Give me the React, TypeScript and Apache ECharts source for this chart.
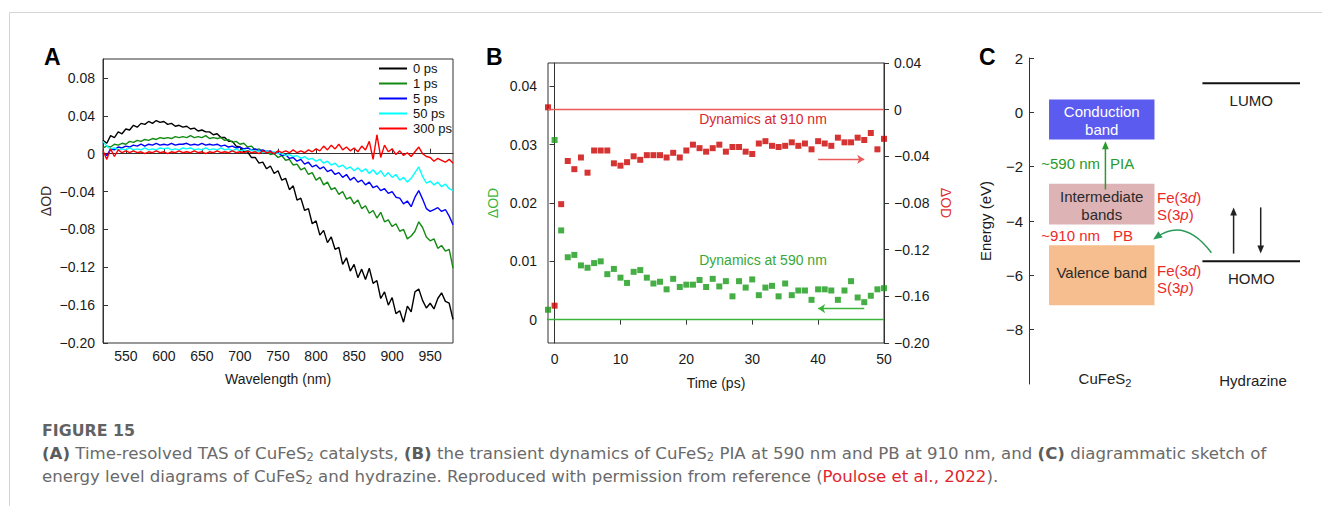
import React, { useEffect, useRef } from 'react';
import * as echarts from 'echarts';

const FONT = '"Liberation Sans", Arial, Helvetica, sans-serif';
const CAP2 = '"DejaVu Sans", "Open Sans", sans-serif';

// ---------- Panel A : time-resolved TAS ----------
const wavelengthsNm = [
  520, 525, 530, 535, 540, 545, 550, 555, 560, 565,
  570, 575, 580, 585, 590, 595, 600, 605, 610, 615,
  620, 625, 630, 635, 640, 645, 650, 655, 660, 665,
  670, 675, 680, 685, 690, 695, 700, 705, 710, 715,
  720, 725, 730, 735, 740, 745, 750, 755, 760, 765,
  770, 775, 780, 785, 790, 795, 800, 805, 810, 815,
  820, 825, 830, 835, 840, 845, 850, 855, 860, 865,
  870, 875, 880, 885, 890, 895, 900, 905, 910, 915,
  920, 925, 930, 935, 940, 945, 950, 955, 960, 965,
  970, 975, 980,
];
const tas0ps = [
  0.014, 0.011, 0.019, 0.017, 0.023, 0.021, 0.026, 0.025, 0.030, 0.028,
  0.032, 0.031, 0.034, 0.032, 0.035, 0.033, 0.034, 0.031, 0.032, 0.029,
  0.030, 0.028, 0.029, 0.026, 0.027, 0.024, 0.025, 0.023, 0.023, 0.020,
  0.021, 0.017, 0.017, 0.013, 0.013, 0.008, 0.007, 0.002, 0.002, -0.004,
  -0.004, -0.010, -0.009, -0.016, -0.013, -0.021, -0.018, -0.028, -0.026, -0.038,
  -0.034, -0.049, -0.047, -0.060, -0.058, -0.074, -0.071, -0.086, -0.081, -0.094,
  -0.088, -0.101, -0.099, -0.117, -0.110, -0.124, -0.117, -0.131, -0.122, -0.133,
  -0.121, -0.137, -0.134, -0.153, -0.146, -0.160, -0.152, -0.169, -0.166, -0.178,
  -0.161, -0.167, -0.146, -0.143, -0.155, -0.163, -0.158, -0.164, -0.153, -0.147,
  -0.156, -0.158, -0.175,
];
const tas1ps = [
  0.006, 0.008, 0.007, 0.010, 0.009, 0.011, 0.010, 0.013, 0.012, 0.014,
  0.013, 0.015, 0.014, 0.016, 0.015, 0.017, 0.016, 0.017, 0.016, 0.018,
  0.017, 0.018, 0.017, 0.019, 0.017, 0.018, 0.017, 0.019, 0.016, 0.017,
  0.016, 0.017, 0.014, 0.015, 0.012, 0.013, 0.010, 0.011, 0.007, 0.008,
  0.004, 0.005, 0.002, 0.003, -0.001, 0.000, -0.004, -0.002, -0.007, -0.006,
  -0.012, -0.011, -0.017, -0.015, -0.022, -0.020, -0.028, -0.025, -0.033, -0.030,
  -0.038, -0.036, -0.043, -0.040, -0.048, -0.046, -0.053, -0.049, -0.058, -0.055,
  -0.063, -0.060, -0.068, -0.062, -0.072, -0.070, -0.077, -0.074, -0.082, -0.080,
  -0.090, -0.087, -0.082, -0.072, -0.078, -0.088, -0.092, -0.090, -0.100, -0.097,
  -0.103, -0.101, -0.121,
];
const tas5ps = [
  0.001, -0.002, 0.005, 0.004, 0.007, 0.006, 0.008, 0.007, 0.009, 0.008,
  0.010, 0.008, 0.010, 0.009, 0.011, 0.009, 0.010, 0.009, 0.011, 0.009,
  0.010, 0.010, 0.011, 0.009, 0.010, 0.009, 0.011, 0.009, 0.010, 0.009,
  0.010, 0.008, 0.009, 0.007, 0.008, 0.006, 0.007, 0.005, 0.006, 0.004,
  0.005, 0.003, 0.004, 0.002, 0.003, 0.000, 0.001, -0.002, -0.001, -0.005,
  -0.004, -0.008, -0.006, -0.011, -0.009, -0.014, -0.012, -0.016, -0.014, -0.019,
  -0.017, -0.022, -0.020, -0.025, -0.022, -0.028, -0.025, -0.030, -0.028, -0.033,
  -0.030, -0.036, -0.034, -0.039, -0.037, -0.042, -0.040, -0.046, -0.047, -0.053,
  -0.050, -0.056, -0.046, -0.039, -0.048, -0.058, -0.061, -0.059, -0.057, -0.061,
  -0.059, -0.066, -0.075,
];
const tas50ps = [
  0.013, 0.008, 0.005, 0.006, 0.004, 0.005, 0.004, 0.006, 0.004, 0.005,
  0.004, 0.006, 0.004, 0.005, 0.004, 0.006, 0.005, 0.006, 0.004, 0.005,
  0.004, 0.006, 0.005, 0.006, 0.004, 0.005, 0.004, 0.006, 0.004, 0.005,
  0.004, 0.006, 0.004, 0.005, 0.003, 0.005, 0.003, 0.004, 0.003, 0.004,
  0.002, 0.003, 0.001, 0.003, 0.001, 0.002, 0.000, 0.001, -0.002, -0.001,
  -0.003, -0.002, -0.005, -0.003, -0.006, -0.005, -0.008, -0.006, -0.010, -0.008,
  -0.012, -0.010, -0.014, -0.012, -0.016, -0.014, -0.018, -0.015, -0.019, -0.016,
  -0.021, -0.017, -0.022, -0.018, -0.024, -0.020, -0.025, -0.022, -0.028, -0.025,
  -0.030, -0.026, -0.020, -0.014, -0.024, -0.031, -0.029, -0.033, -0.030, -0.035,
  -0.032, -0.037, -0.039,
];
const tas300ps = [
  0.003, -0.006, 0.005, -0.003, 0.004, 0.001, 0.003, 0.001, 0.003, 0.001,
  0.002, 0.000, 0.002, 0.001, 0.003, 0.001, 0.002, 0.000, 0.002, 0.001,
  0.003, 0.001, 0.002, 0.001, 0.003, 0.001, 0.002, 0.000, 0.002, 0.001,
  0.003, 0.001, 0.002, 0.001, 0.003, 0.001, 0.002, 0.001, 0.003, 0.001,
  0.002, 0.000, 0.003, 0.001, 0.002, 0.000, 0.003, 0.001, 0.003, 0.001,
  0.004, 0.001, 0.003, 0.001, 0.004, 0.002, 0.005, 0.003, 0.008, 0.004,
  0.009, 0.005, 0.010, 0.004, 0.007, 0.003, 0.006, 0.002, 0.008, 0.004,
  0.013, -0.006, 0.020, -0.004, 0.009, 0.002, 0.005, -0.001, 0.003, -0.002,
  0.001, -0.003, 0.002, 0.007, 0.000, -0.003, -0.004, -0.008, -0.005, -0.007,
  -0.009, -0.006, -0.010,
];
const tasLegend = ['0 ps', '1 ps', '5 ps', '50 ps', '300 ps'];
const tasColors = ['#000000', '#138a13', '#0000ff', '#00ffff', '#ff0000'];
const wavelengthTicks = [550, 600, 650, 700, 750, 800, 850, 900, 950];
const odTicksA = [-0.2, -0.16, -0.12, -0.08, -0.04, 0, 0.04, 0.08];

// ---------- Panel B : transient dynamics ----------
const timePs = [
  -1, 0, 1, 2, 3, 4, 5, 6, 7, 8,
  9, 10, 11, 12, 13, 14, 15, 16, 17, 18,
  19, 20, 21, 22, 23, 24, 25, 26, 27, 28,
  29, 30, 31, 32, 33, 34, 35, 36, 37, 38,
  39, 40, 41, 42, 43, 44, 45, 46, 47, 48,
  49, 50,
];
const dyn590 = [
  0.0017, 0.0308, 0.0153, 0.0107, 0.0111, 0.0093, 0.0089, 0.0097, 0.0100, 0.0078,
  0.0087, 0.0072, 0.0063, 0.0082, 0.0085, 0.0072, 0.0062, 0.0065, 0.0052, 0.0070,
  0.0056, 0.0060, 0.0060, 0.0068, 0.0056, 0.0070, 0.0057, 0.0066, 0.0040, 0.0066,
  0.0055, 0.0069, 0.0042, 0.0055, 0.0058, 0.0040, 0.0062, 0.0042, 0.0050, 0.0050,
  0.0034, 0.0052, 0.0052, 0.0050, 0.0034, 0.0050, 0.0066, 0.0038, 0.0030, 0.0041,
  0.0052, 0.0054,
];
const dyn910 = [
  0.002, -0.168, -0.081, -0.044, -0.051, -0.041, -0.054, -0.035, -0.035, -0.035,
  -0.046, -0.048, -0.045, -0.040, -0.043, -0.039, -0.039, -0.039, -0.041, -0.037,
  -0.041, -0.035, -0.030, -0.033, -0.036, -0.033, -0.030, -0.036, -0.032, -0.032,
  -0.036, -0.038, -0.029, -0.027, -0.031, -0.032, -0.031, -0.028, -0.031, -0.029,
  -0.034, -0.027, -0.029, -0.031, -0.024, -0.028, -0.028, -0.024, -0.026, -0.020,
  -0.034, -0.025,
];
const timeTicks = [0, 10, 20, 30, 40, 50];
const odTicksBLeft = [0, 0.01, 0.02, 0.03, 0.04];
const odTicksBRight = [-0.2, -0.16, -0.12, -0.08, -0.04, 0, 0.04];
const arrow590 = { fromT: 47, toT: 40, od: 0.0019 };
const arrow910 = { fromT: 40, toT: 47, od: -0.0426 };

// ---------- Panel C : energy levels ----------
const energyTicks = [-8, -6, -4, -2, 0, 2];
const bandNames = ['Conduction\nband', 'Intermediate\nbands', 'Valence band'];
const bandTopEv = [0.47, -2.63, -4.89];
const bandBottomEv = [-1.0, -4.13, -7.1];
const bandColors = ['#5b5bef', '#ddb3b5', '#f6bd8e'];
const bandTextColors = ['#ffffff', '#2a2a2a', '#2a2a2a'];
const levelNames = ['LUMO', 'HOMO'];
const levelEv = [1.07, -5.48];
const transFromEv = [-2.84, -5.2, -3.5];
const transToEv = [-1.06, -3.5, -5.2];
const transColors = ['#2a9a2a', '#222222', '#222222'];
const pbTransferEv = { from: -5.17, ctrl: -3.87, to: -4.68 };

// layout (x positions in the hidden 0..100 axis of panel C)
const BAND_X0 = 7.4;
const BAND_X1 = 46.3;
const LEVEL_X0 = 64;
const LEVEL_X1 = 100;
const TRANS_X = [28.2, 75.5, 85.5];
const PB_X = { from: 67.3, ctrl: 57.5, to: 45.8 };

const minus = (s: string) => s.replace('-', '\u2212');
const fmt2 = (v: number) => (Math.abs(v) < 1e-9 ? '0' : minus(v.toFixed(2)));
const fmt0 = (v: number) => (Math.abs(v) < 1e-9 ? '0' : minus(String(Math.round(v))));

function arrowHead(tip: number[], from: number[], size: number, color: string) {
  const dx = tip[0] - from[0];
  const dy = tip[1] - from[1];
  const len = Math.hypot(dx, dy) || 1;
  const ux = dx / len;
  const uy = dy / len;
  const bx = tip[0] - ux * size;
  const by = tip[1] - uy * size;
  const px = -uy * size * 0.42;
  const py = ux * size * 0.42;
  return {
    type: 'polygon',
    shape: { points: [[tip[0], tip[1]], [bx + px, by + py], [bx - px, by - py]] },
    style: { fill: color },
  };
}

function buildOption(): any {
  const axisLine = { show: true, lineStyle: { color: '#333', width: 1 } };
  const tickStyle = { color: '#333', width: 1 };
  const lbl = (size: number) => ({ fontSize: size, fontFamily: FONT, color: '#1a1a1a' });

  const tasSeries = [tas0ps, tas1ps, tas5ps, tas50ps, tas300ps].map((vals, k) => ({
    name: tasLegend[k],
    type: 'line',
    xAxisIndex: 0,
    yAxisIndex: 0,
    symbol: 'none',
    showSymbol: false,
    silent: true,
    z: 2 + k,
    data: wavelengthsNm.map((w, i) => [w, vals[i]]),
    lineStyle: { color: tasColors[k], width: 1.4 },
    itemStyle: { color: tasColors[k] },
  }));

  const bandSeries = {
    type: 'custom',
    xAxisIndex: 2,
    yAxisIndex: 3,
    silent: true,
    clip: false,
    data: bandTopEv.map((t, i) => [i, t, bandBottomEv[i]]),
    renderItem: (params: any, api: any) => {
      const i = api.value(0);
      const tl = api.coord([BAND_X0, api.value(1)]);
      const br = api.coord([BAND_X1, api.value(2)]);
      return {
        type: 'group',
        children: [
          { type: 'rect', shape: { x: tl[0], y: tl[1], width: br[0] - tl[0], height: br[1] - tl[1] }, style: { fill: bandColors[i] } },
          {
            type: 'text',
            x: (tl[0] + br[0]) / 2,
            y: (tl[1] + br[1]) / 2 + (i === 2 ? -3 : 1),
            style: { text: bandNames[i], font: `15px ${FONT}`, fill: bandTextColors[i], align: 'center', verticalAlign: 'middle', lineHeight: 18 },
          },
        ],
      };
    },
  };

  const levelSeries = {
    type: 'custom',
    xAxisIndex: 2,
    yAxisIndex: 3,
    silent: true,
    clip: false,
    data: levelEv.map((e, i) => [i, e]),
    renderItem: (params: any, api: any) => {
      const i = api.value(0);
      const a = api.coord([LEVEL_X0, api.value(1)]);
      const b = api.coord([LEVEL_X1, api.value(1)]);
      return {
        type: 'group',
        children: [
          { type: 'line', shape: { x1: a[0], y1: a[1], x2: b[0], y2: b[1] }, style: { stroke: '#111', lineWidth: 2 } },
          {
            type: 'text',
            x: (a[0] + b[0]) / 2,
            y: a[1] + 17,
            style: { text: levelNames[i], font: `15px ${FONT}`, fill: '#222', align: 'center', verticalAlign: 'middle' },
          },
        ],
      };
    },
  };

  const transSeries = {
    type: 'custom',
    xAxisIndex: 2,
    yAxisIndex: 3,
    silent: true,
    clip: false,
    data: transFromEv.map((e, i) => [i, e, transToEv[i]]),
    renderItem: (params: any, api: any) => {
      const i = api.value(0);
      const p0 = api.coord([TRANS_X[i], api.value(1)]);
      const p1 = api.coord([TRANS_X[i], api.value(2)]);
      const dir = p1[1] > p0[1] ? 1 : -1;
      const head = 8;
      return {
        type: 'group',
        children: [
          { type: 'line', shape: { x1: p0[0], y1: p0[1], x2: p1[0], y2: p1[1] - dir * head * 0.8 }, style: { stroke: transColors[i], lineWidth: 1.5 } },
          arrowHead(p1, p0, head, transColors[i]),
        ],
      };
    },
  };

  const pbSeries = {
    type: 'custom',
    xAxisIndex: 2,
    yAxisIndex: 3,
    silent: true,
    clip: false,
    data: [[pbTransferEv.from, pbTransferEv.ctrl, pbTransferEv.to]],
    renderItem: (params: any, api: any) => {
      const s = api.coord([PB_X.from, api.value(0)]);
      const c = api.coord([PB_X.ctrl, api.value(1)]);
      const e = api.coord([PB_X.to, api.value(2)]);
      return {
        type: 'group',
        children: [
          { type: 'bezierCurve', shape: { x1: s[0], y1: s[1], cpx1: c[0], cpy1: c[1], x2: e[0] + 4, y2: e[1] - 2.5 }, style: { stroke: '#2a9a5a', lineWidth: 1.5, fill: 'none' } },
          arrowHead(e, c, 9, '#2a9a5a'),
        ],
      };
    },
  };

  const greenSeries = {
    name: '590 nm',
    type: 'scatter',
    xAxisIndex: 1,
    yAxisIndex: 1,
    symbol: 'rect',
    symbolSize: 6,
    silent: true,
    itemStyle: { color: '#169a16' },
    data: timePs.map((t, i) => [t, dyn590[i]]),
    markLine: {
      silent: true,
      symbol: ['none', 'none'],
      label: { show: false },
      lineStyle: { color: '#3cb43c', width: 1.3, type: 'solid' },
      data: [
        { yAxis: 0 },
        [
          { coord: [arrow590.fromT, arrow590.od], symbol: 'none' },
          { coord: [arrow590.toT, arrow590.od], symbol: 'arrow', symbolSize: 7 },
        ],
      ],
    },
  };

  const redSeries = {
    name: '910 nm',
    type: 'scatter',
    xAxisIndex: 1,
    yAxisIndex: 2,
    symbol: 'rect',
    symbolSize: 6,
    silent: true,
    itemStyle: { color: '#cc0000' },
    data: timePs.map((t, i) => [t, dyn910[i]]),
    markLine: {
      silent: true,
      symbol: ['none', 'none'],
      label: { show: false },
      lineStyle: { color: '#ea5a5a', width: 1.3, type: 'solid' },
      data: [
        { yAxis: 0 },
        [
          { coord: [arrow910.fromT, arrow910.od], symbol: 'none' },
          { coord: [arrow910.toT, arrow910.od], symbol: 'arrow', symbolSize: 7 },
        ],
      ],
    },
  };

  const capSize = 16.6;
  const capFont = `${capSize}px ${CAP2}`;
  const capFill = '#6a6a6a';
  const capRich = {
    b: { font: `bold ${capSize}px ${CAP2}`, fill: '#5c5c5c' },
    s: { font: `11.5px ${CAP2}`, fill: capFill, padding: [8, 0, 0, 0], lineHeight: 11 },
    r: { font: capFont, fill: '#e0262d' },
  };
  const feRich = {
    i: { font: `italic 15px ${FONT}`, fill: '#ec2a2a' },
  };
  const t = (x: number, y: number, text: string, font: string, fill: string, align = 'left', extra: any = {}) => ({
    type: 'text',
    x,
    y,
    silent: true,
    style: { text, font, fill, align, verticalAlign: 'middle', ...extra },
  });

  const graphics = [
    { type: 'line', silent: true, shape: { x1: 9.5, y1: 12.5, x2: 1322, y2: 12.5 }, style: { stroke: '#d4d4d4', lineWidth: 1 } },
    { type: 'line', silent: true, shape: { x1: 9.5, y1: 12.5, x2: 9.5, y2: 506 }, style: { stroke: '#d4d4d4', lineWidth: 1 } },
    t(44, 57, 'A', `bold 23px ${FONT}`, '#000'),
    t(486, 57, 'B', `bold 23px ${FONT}`, '#000'),
    t(979, 57, 'C', `bold 23px ${FONT}`, '#000'),
    t(763, 119, 'Dynamics at 910 nm', `14px ${FONT}`, '#d8282e', 'center'),
    t(763, 260, 'Dynamics at 590 nm', `14px ${FONT}`, '#38a838', 'center'),
    t(1100, 163, '~590 nm', `15px ${FONT}`, '#2a9a2a', 'right'),
    t(1110, 163, 'PIA', `15px ${FONT}`, '#2a9a2a'),
    t(1100, 235, '~910 nm', `15px ${FONT}`, '#ec2a2a', 'right'),
    t(1113, 235, 'PB', `15px ${FONT}`, '#ec2a2a'),
    t(1157, 197, 'Fe(3{i|d})', `15px ${FONT}`, '#ec2a2a', 'left', { rich: feRich }),
    t(1157, 214, 'S(3{i|p})', `15px ${FONT}`, '#ec2a2a', 'left', { rich: feRich }),
    t(1157, 270, 'Fe(3{i|d})', `15px ${FONT}`, '#ec2a2a', 'left', { rich: feRich }),
    t(1157, 287, 'S(3{i|p})', `15px ${FONT}`, '#ec2a2a', 'left', { rich: feRich }),
    t(1105, 378, 'CuFeS{s|2}', `15px ${FONT}`, '#222', 'center', {
      rich: { s: { font: `11px ${FONT}`, fill: '#222', padding: [9, 0, 0, 0], lineHeight: 12 } },
      lineHeight: 20,
    }),
    t(1253, 380, 'Hydrazine', `15px ${FONT}`, '#222', 'center'),
    t(42, 430, 'FIGURE 15', `bold 15.8px ${CAP2}`, '#626262', 'left', { lineHeight: 19 }),
    t(42, 453,
      '{b|(A)} Time-resolved TAS of CuFeS{s|2} catalysts, {b|(B)} the transient dynamics of CuFeS{s|2} PIA at 590 nm and PB at 910 nm, and {b|(C)} diagrammatic sketch of',
      capFont, capFill, 'left', { rich: capRich, lineHeight: 19 }),
    t(42, 476,
      'energy level diagrams of CuFeS{s|2} and hydrazine. Reproduced with permission from reference ({r|Poulose et al., 2022}).',
      capFont, capFill, 'left', { rich: capRich, lineHeight: 19 }),
  ];

  return {
    animation: false,
    backgroundColor: '#ffffff',
    textStyle: { fontFamily: FONT },
    legend: {
      orient: 'vertical',
      left: 379,
      top: 62,
      padding: 0,
      icon: 'rect',
      itemWidth: 28,
      itemHeight: 2,
      itemGap: 2,
      selectedMode: false,
      data: tasLegend,
      textStyle: { fontSize: 13, fontFamily: FONT, color: '#111', padding: [0, 0, 0, 1] },
    },
    grid: [
      { left: 103, top: 59, width: 350, height: 284, show: true, borderColor: '#333', borderWidth: 1 },
      { left: 548, top: 63, width: 336, height: 280, show: true, borderColor: '#333', borderWidth: 1 },
      { left: 1029, top: 58, width: 271, height: 326 },
    ],
    xAxis: [
      {
        gridIndex: 0, type: 'value', min: 520, max: 980,
        axisLine, splitLine: { show: false },
        axisTick: { inside: true, length: 5, customValues: wavelengthTicks, lineStyle: tickStyle },
        axisLabel: { ...lbl(14), margin: 6, customValues: wavelengthTicks, formatter: fmt0 },
        name: 'Wavelength (nm)', nameLocation: 'middle', nameGap: 29,
        nameTextStyle: { fontSize: 14, fontFamily: FONT, color: '#1a1a1a' },
      },
      {
        gridIndex: 1, type: 'value', min: -1, max: 50,
        axisLine, splitLine: { show: false },
        axisTick: { inside: false, length: 5, customValues: timeTicks, lineStyle: tickStyle },
        axisLabel: { ...lbl(14), margin: 9, customValues: timeTicks, formatter: fmt0 },
        name: 'Time (ps)', nameLocation: 'middle', nameGap: 33,
        nameTextStyle: { fontSize: 14, fontFamily: FONT, color: '#1a1a1a' },
      },
      { gridIndex: 2, type: 'value', min: 0, max: 100, show: false },
    ],
    yAxis: [
      {
        gridIndex: 0, type: 'value', min: -0.2, max: 0.1,
        axisLine, splitLine: { show: false },
        axisTick: { inside: true, length: 5, customValues: odTicksA, lineStyle: tickStyle },
        axisLabel: { ...lbl(14), margin: 8, customValues: odTicksA, formatter: fmt2 },
        name: '\u0394OD', nameLocation: 'middle', nameGap: 50, nameRotate: 90,
        nameTextStyle: { fontSize: 14, fontFamily: FONT, color: '#3a2a22' },
      },
      {
        gridIndex: 1, type: 'value', position: 'left', min: -0.004, max: 0.044,
        axisLine, splitLine: { show: false },
        axisTick: { inside: false, length: 5, customValues: odTicksBLeft, lineStyle: tickStyle },
        axisLabel: { ...lbl(14), margin: 11, customValues: odTicksBLeft, formatter: fmt2 },
        name: '\u0394OD', nameLocation: 'middle', nameGap: 48, nameRotate: 90,
        nameTextStyle: { fontSize: 14, fontFamily: FONT, color: '#3cb43c' },
      },
      {
        gridIndex: 1, type: 'value', position: 'right', min: -0.2, max: 0.04,
        axisLine, splitLine: { show: false },
        axisTick: { inside: false, length: 5, customValues: odTicksBRight, lineStyle: tickStyle },
        axisLabel: { ...lbl(14), margin: 10, customValues: odTicksBRight, formatter: fmt2 },
        name: '\u0394OD', nameLocation: 'middle', nameGap: 55, nameRotate: -90,
        nameTextStyle: { fontSize: 14, fontFamily: FONT, color: '#e03030' },
      },
      {
        gridIndex: 2, type: 'value', min: -10, max: 2,
        axisLine, splitLine: { show: false },
        axisTick: { inside: true, length: 5, customValues: energyTicks, lineStyle: tickStyle },
        axisLabel: { ...lbl(15), margin: 6, customValues: energyTicks, formatter: fmt0 },
        name: 'Energy (eV)', nameLocation: 'middle', nameGap: 36, nameRotate: 90,
        nameTextStyle: { fontSize: 15, fontFamily: FONT, color: '#1a1a1a' },
      },
    ],
    series: [...tasSeries, greenSeries, redSeries, bandSeries, levelSeries, transSeries, pbSeries],
    graphic: { elements: graphics },
  };
}

export default function App() {
  const ref = useRef<HTMLDivElement>(null);
  useEffect(() => {
    if (!ref.current) return;
    const chart = echarts.init(ref.current, null, { renderer: 'svg' });
    chart.setOption(buildOption());
    return () => chart.dispose();
  }, []);
  return (
    <div
      ref={ref}
      style={{ position: 'fixed', left: 0, top: 0, width: 1322, height: 506, background: '#ffffff' }}
    />
  );
}
